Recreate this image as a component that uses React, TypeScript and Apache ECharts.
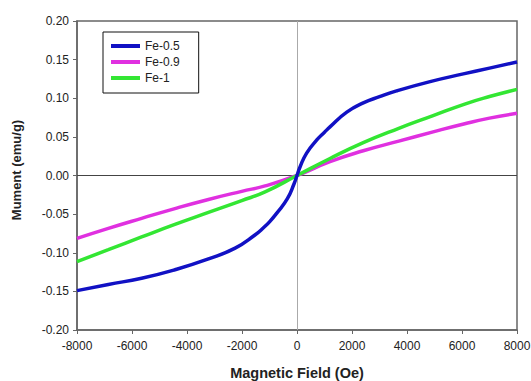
import React, { useEffect, useRef } from "react";
import * as echarts from "echarts";

const seriesNames = ["Fe-0.5", "Fe-0.9", "Fe-1"];

const fieldFe05 = [-8000, -6860, -5650, -4440, -3220, -2250, -1530, -1200, -1000, -720, -350, -110, 0, 110, 350, 720, 1000, 1200, 1810, 2410, 3000, 3620, 4840, 6050, 7000, 8000];
const momentFe05 = [-0.149, -0.141, -0.133, -0.122, -0.108, -0.094, -0.077, -0.067, -0.06, -0.048, -0.03, -0.011, 0, 0.011, 0.029, 0.046, 0.056, 0.063, 0.082, 0.094, 0.102, 0.1095, 0.1215, 0.1315, 0.139, 0.147];

const fieldFe09 = [-8000, -6860, -5650, -4440, -3220, -2010, -1160, 0, 1200, 2410, 3700, 4950, 6100, 7000, 8000];
const momentFe09 = [-0.0815, -0.0685, -0.0555, -0.0428, -0.031, -0.0205, -0.0135, 0, 0.018, 0.032, 0.0445, 0.0565, 0.067, 0.0743, 0.0805];

const fieldFe1 = [-8000, -6860, -5650, -4440, -3220, -2010, -1160, 0, 1200, 2410, 3700, 4950, 6100, 7000, 8000];
const momentFe1 = [-0.1115, -0.096, -0.0795, -0.0633, -0.0478, -0.0325, -0.0212, 0, 0.022, 0.0425, 0.061, 0.0775, 0.0925, 0.1022, 0.1115];

const colors = ["#1111C4", "#E030E0", "#33E633"];

const zip = (xs: number[], ys: number[]) => xs.map((x, i) => [x, ys[i]]);

export default function App() {
  const ref = useRef<HTMLDivElement>(null);
  useEffect(() => {
    if (!ref.current) return;
    const chart = echarts.init(ref.current, undefined, { renderer: "svg" });
    const font = "Liberation Sans, Arial, sans-serif";
    const data = [zip(fieldFe05, momentFe05), zip(fieldFe09, momentFe09), zip(fieldFe1, momentFe1)];
    chart.setOption({
      animation: false,
      backgroundColor: "#fff",
      grid: {
        left: 77,
        right: 14,
        top: 21,
        bottom: 51,
        show: true,
        borderColor: "#666",
        borderWidth: 1.5,
        outerBoundsMode: "none",
        containLabel: false,
      },
      graphic: [
        {
          type: "text",
          x: 16,
          y: 170,
          rotation: Math.PI / 2,
          style: {
            text: "Mument (emu/g)",
            fontFamily: font,
            fontSize: 13,
            fontWeight: "bold",
            fill: "#222",
            align: "center",
            verticalAlign: "middle",
          },
        },
      ],
      legend: {
        orient: "vertical",
        left: 103,
        top: 32,
        padding: [7, 19, 8, 8],
        itemWidth: 29,
        itemHeight: 4,
        itemGap: 2,
        icon: "rect",
        borderColor: "#111",
        borderWidth: 1,
        backgroundColor: "#fff",
        textStyle: { fontFamily: font, fontSize: 12, color: "#222", lineHeight: 14 },
        data: seriesNames,
      },
      xAxis: {
        type: "value",
        min: -8000,
        max: 8000,
        interval: 2000,
        name: "Magnetic Field (Oe)",
        nameLocation: "middle",
        nameGap: 35,
        nameTextStyle: { fontFamily: font, fontSize: 14.5, fontWeight: "bold", color: "#222" },
        axisLine: { onZero: false, lineStyle: { color: "#666", width: 1.5 } },
        axisTick: { show: true, length: 4, lineStyle: { color: "#666" } },
        axisLabel: {
          fontFamily: font,
          fontSize: 12,
          color: "#222",
          margin: 10,
          formatter: (v: number) => String(v),
        },
        splitLine: { show: false },
      },
      yAxis: {
        type: "value",
        min: -0.2,
        max: 0.2,
        interval: 0.05,
        axisLine: { onZero: false, lineStyle: { color: "#666", width: 1.5 } },
        axisTick: { show: true, length: 4, lineStyle: { color: "#666" } },
        axisLabel: {
          fontFamily: font,
          fontSize: 12,
          color: "#222",
          margin: 8,
          formatter: (v: number) => v.toFixed(2),
        },
        splitLine: { show: false },
      },
      series: seriesNames.map((name, i) => ({
        name,
        type: "line",
        smooth: true,
        showSymbol: false,
        symbol: "none",
        data: data[i],
        z: 3 + (i === 0 ? 2 : i === 2 ? 1 : 0),
        lineStyle: { color: colors[i], width: 3.5 },
        itemStyle: { color: colors[i] },
        markLine:
          i === 0
            ? {
                silent: true,
                symbol: "none",
                label: { show: false },
                z: 1,
                data: [
                  { yAxis: 0, lineStyle: { color: "#444", width: 1, type: "solid" } },
                  { xAxis: 0, lineStyle: { color: "#aaa", width: 1, type: "solid" } },
                ],
              }
            : undefined,
      })),
    });
    return () => chart.dispose();
  }, []);
  return <div ref={ref} style={{ width: 531, height: 381, position: "absolute", left: 0, top: 0 }} />;
}
